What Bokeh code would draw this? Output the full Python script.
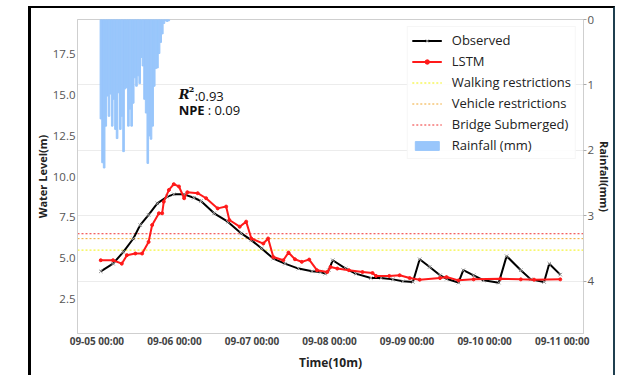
import pandas as pd
from bokeh.plotting import figure
from bokeh.models import (Range1d, LinearAxis, Grid, FixedTicker, DatetimeTickFormatter,
                          PrintfTickFormatter, Legend, LegendItem, Label, ColumnDataSource)
from bokeh.embed import file_html
from bokeh.resources import INLINE

# ---------------- data ----------------
base_time = "2022-09-05 00:00"
# observed water level: hours after base_time, value (m)
obs_hours = [1.2, 5.0, 8.2, 11.3, 13.4, 16.0, 18.7, 21.8, 23.8, 27.0, 30.0, 32.2, 36.3, 40.5,
             44.7, 47.8, 51.0, 54.6, 58.2, 62.4, 66.6, 69.2, 70.7, 71.8, 73.0, 77.0, 80.1,
             84.8, 88.0, 91.6, 94.7, 97.8, 99.9, 103.0, 106.2, 108.2, 111.9, 113.4, 116.6,
             119.7, 124.4, 126.8, 131.2, 134.3, 138.4, 140.0, 143.4]
obs_level = [4.2, 4.67, 5.39, 6.21, 7.03, 7.65, 8.36, 8.77, 8.91, 8.91, 8.7, 8.5, 7.75, 7.24,
             6.52, 6.11, 5.6, 4.98, 4.67, 4.37, 4.2, 4.16, 4.06, 4.27, 4.88, 4.37, 4.06,
             3.79, 3.8, 3.71, 3.59, 3.55, 4.94, 4.47, 3.96, 3.75, 3.51, 4.27, 3.96,
             3.65, 3.51, 5.13, 4.27, 3.71, 3.55, 4.67, 4.0]
# LSTM prediction
lstm_hours = [1.2, 5.0, 7.7, 9.3, 11.9, 14.0, 16.0, 17.1, 19.2, 20.2, 20.7, 22.3, 23.8, 25.4,
              27.0, 28.0, 31.2, 33.8, 37.4, 40.0, 41.0, 44.2, 46.2, 47.8, 51.5, 53.0, 54.6,
              57.7, 59.3, 61.3, 63.4, 65.7, 68.1, 71.3, 72.3, 74.4, 78.0, 82.2, 85.3, 86.4,
              90.5, 93.7, 96.8, 99.9, 106.2, 108.2, 111.9, 116.6, 124.9, 131.2, 135.3, 143.4]
lstm_level = [4.88, 4.88, 4.67, 5.19, 5.29, 5.29, 6.0, 7.03, 7.75, 7.75, 8.46, 9.18, 9.53, 9.39,
              8.67, 9.04, 8.98, 8.67, 8.05, 8.16, 7.34, 6.93, 7.24, 6.21, 5.9, 6.21, 5.08,
              4.88, 5.35, 4.94, 4.78, 4.92, 4.27, 4.16, 4.47, 4.37, 4.27, 4.16, 4.1, 3.92,
              3.92, 3.96, 3.79, 3.69, 3.79, 3.85, 3.65, 3.71, 3.75, 3.71, 3.69, 3.71]
# rainfall (mm), every 30 minutes from 01:15 on 09-05
rain_start = "2022-09-05 01:15"
rain_mm = [1.52, 2.19, 2.27, 1.63, 1.17, 1.48, 1.14, 1.63, 1.22, 1.68, 1.82, 1.12, 1.68, 1.48,
           2.02, 1.06, 1.04, 1.63, 1.37, 1.63, 1.28, 0.89, 1.02, 0.86, 0.98, 0.58, 0.71, 1.22,
           1.43, 2.2, 1.78, 1.83, 1.63, 1.02, 0.75, 0.74, 0.52, 0.35, 0.22, 0.06, 0.02, 0.03, 0.02]
# thresholds (m)
walking_level = 5.5
vehicle_level = 6.2
bridge_level = 6.5
# ticks
x_tick_dates = ["2022-09-05", "2022-09-06", "2022-09-07", "2022-09-08", "2022-09-09",
                "2022-09-10", "2022-09-11"]
left_ticks = [2.5, 5.0, 7.5, 10.0, 12.5, 15.0, 17.5]
right_ticks = [0, 1, 2, 3, 4]
r2_text = "0.93"
npe_text = "0.09"

# ---------------- build ----------------
base = pd.Timestamp(base_time)
def at(h):
    return base + pd.to_timedelta(h, unit="h")

obs_src = ColumnDataSource(dict(x=[at(h) for h in obs_hours], y=obs_level))
lstm_src = ColumnDataSource(dict(x=[at(h) for h in lstm_hours], y=lstm_level))
rain_times = pd.date_range(rain_start, periods=len(rain_mm), freq="30min")
rain_src = ColumnDataSource(dict(x=rain_times, top=[0] * len(rain_mm), bottom=rain_mm))

x_start, x_end = at(-6), at(150.6)

FONT = "Open Sans"
p = figure(width=587, height=369, x_axis_type="datetime",
           x_range=Range1d(x_start, x_end), y_range=Range1d(0.4, 19.6),
           output_backend="svg", toolbar_location=None,
           min_border_left=40, min_border_right=35, min_border_top=11, min_border_bottom=44)
p.margin = (6, 0, 0, 28)
p.styles = {"border-left": "3px solid black", "border-top": "2px solid black",
            "border-right": "2px solid #1f3f4f", "box-sizing": "border-box"}

p.extra_y_ranges = {"rain": Range1d(start=4.8, end=0)}
rax = LinearAxis(y_range_name="rain", axis_label="Rainfall(mm)",
                 ticker=FixedTicker(ticks=right_ticks))
p.add_layout(rax, "right")

p.xgrid.visible = False
p.ygrid.visible = False
p.add_layout(Grid(dimension=1, ticker=rax.ticker, y_range_name="rain",
                  grid_line_color="#ececec", grid_line_width=1))

p.outline_line_color = "#cfcfcf"

# rainfall bars
bw = pd.Timedelta("30min").total_seconds() * 1000
r_rain = p.vbar(x="x", top="top", bottom="bottom", width=bw, source=rain_src,
                y_range_name="rain", fill_color="#99c6fb", line_color="#99c6fb", line_width=1)

# thresholds
r_walk = p.line([x_start, x_end], [walking_level] * 2, line_color="#f2f20a", line_dash="2 2", line_width=1)
r_veh = p.line([x_start, x_end], [vehicle_level] * 2, line_color="#f0a830", line_dash="2 2", line_width=1)
r_bri = p.line([x_start, x_end], [bridge_level] * 2, line_color="#f03030", line_dash="2 2", line_width=1)

# series
r_obs = p.line("x", "y", source=obs_src, line_color="black", line_width=2)
r_obs_m = p.scatter("x", "y", source=obs_src, marker="x", size=5, line_color="#999999", line_width=1)
r_lstm = p.line("x", "y", source=lstm_src, line_color="#ff1a1a", line_width=2)
r_lstm_m = p.scatter("x", "y", source=lstm_src, marker="circle", size=3, color="#ff1a1a")

legend = Legend(items=[
    LegendItem(label="Observed", renderers=[r_obs, r_obs_m]),
    LegendItem(label="LSTM", renderers=[r_lstm, r_lstm_m]),
    LegendItem(label="Walking restrictions", renderers=[r_walk]),
    LegendItem(label="Vehicle restrictions", renderers=[r_veh]),
    LegendItem(label="Bridge Submerged)", renderers=[r_bri]),
    LegendItem(label="Rainfall (mm)", renderers=[r_rain]),
], location="top_right")
legend.margin = 7
legend.padding = 4
legend.spacing = 3
legend.glyph_width = 30
legend.glyph_height = 11
legend.label_height = 11
legend.label_standoff = 10
legend.label_text_font = FONT
legend.label_text_font_size = "13px"
legend.label_text_color = "#222222"
legend.border_line_color = "#eeeeee"
legend.background_fill_alpha = 0.9
p.add_layout(legend)

# annotations
lx = at(25.3)
p.add_layout(Label(x=lx, y=15.45, text="R", text_font="DejaVu Serif", text_font_style="bold italic",
                   text_font_size="13px", text_baseline="top", text_color="#111111"))
p.add_layout(Label(x=lx, y=15.5, x_offset=10, text="2", text_font="DejaVu Serif",
                   text_font_style="bold", text_font_size="8px", text_baseline="top", text_color="#111111"))
p.add_layout(Label(x=lx, y=15.45, x_offset=16, text=":" + r2_text, text_font=FONT,
                   text_font_size="13px", text_baseline="top", text_color="#111111"))
p.add_layout(Label(x=lx, y=14.6, text="NPE", text_font=FONT, text_font_style="bold",
                   text_font_size="13px", text_baseline="top", text_color="#111111"))
p.add_layout(Label(x=lx, y=14.6, x_offset=29, text=" : " + npe_text, text_font=FONT,
                   text_font_size="13px", text_baseline="top", text_color="#111111"))

# axes
xticks = [pd.Timestamp(d).value / 1e6 for d in x_tick_dates]
p.xaxis.ticker = FixedTicker(ticks=xticks)
fmt = "%m-%d %H:%M"
p.xaxis.formatter = DatetimeTickFormatter(milliseconds=fmt, seconds=fmt, minsec=fmt, minutes=fmt,
                                          hourmin=fmt, hours=fmt, days=fmt, months=fmt, years=fmt)
p.xaxis.axis_label = "Time(10m)"
p.yaxis[0].ticker = FixedTicker(ticks=left_ticks)
p.yaxis[0].formatter = PrintfTickFormatter(format="%.1f")
p.yaxis[0].axis_label = "Water Level(m)"

for ax in [p.xaxis[0], p.yaxis[0], rax]:
    ax.axis_line_color = "#cfcfcf"
    ax.major_tick_line_color = None
    ax.minor_tick_line_color = None
    ax.major_tick_out = 0
    ax.minor_tick_out = 0
    ax.major_label_text_font = FONT
    ax.axis_label_text_font = FONT
    ax.axis_label_text_font_style = "bold"
    ax.axis_label_text_color = "#222222"
    ax.axis_label_text_font_size = "11px"
    ax.major_label_text_color = "#555555"
    ax.major_label_text_font_size = "11.5px"
    ax.major_label_standoff = 2
    ax.axis_label_standoff = 0

p.xaxis.major_label_text_font_style = "bold"
p.xaxis.major_label_text_font_size = "10px"
p.xaxis.major_label_text_color = "#444444"
p.xaxis.axis_label_text_font_size = "12px"
p.xaxis.major_label_standoff = 0
p.xaxis.axis_label_standoff = 3
rax.major_tick_line_color = "#aaaaaa"
rax.major_tick_out = 3
rax.major_tick_in = 0
rax.major_label_standoff = 1
rax.axis_label_standoff = 0

open("out.html", "w").write(file_html(p, INLINE))
